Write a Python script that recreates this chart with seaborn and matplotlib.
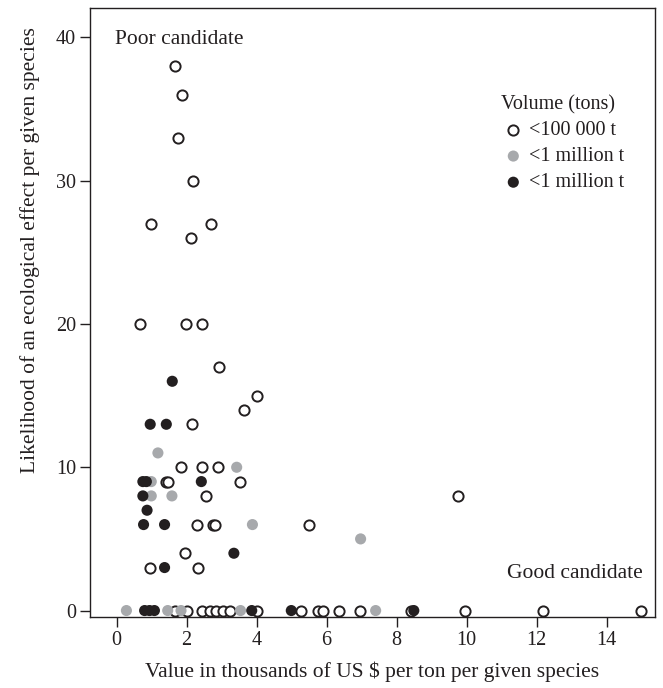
import matplotlib
matplotlib.use("Agg")
import matplotlib.pyplot as plt
import seaborn as sns
import pandas as pd

# ---- data ----
open_x = [1.66, 1.87, 1.76, 2.19, 0.99, 2.69, 2.12, 0.68, 1.97, 2.44, 2.93, 4.0, 3.65, 2.16,
          1.83, 2.45, 2.9, 1.42, 1.47, 3.52, 2.55, 9.76, 2.31, 2.76, 2.8, 5.49, 1.95, 0.96, 2.33,
          1.68, 2.0, 2.45, 2.66, 2.85, 3.04, 3.23, 4.0, 5.28, 5.76, 5.9, 6.36, 6.95, 8.4, 9.95,
          12.19, 14.98]
open_y = [38, 36, 33, 30, 27, 27, 26, 20, 20, 20, 17, 15, 14, 13,
          10, 10, 10, 9, 9, 9, 8, 8, 6, 6, 6, 6, 4, 3, 3,
          0, 0, 0, 0, 0, 0, 0, 0, 0, 0, 0, 0, 0, 0, 0,
          0, 0]

gray_x = [1.18, 3.43, 0.99, 0.99, 1.58, 3.88, 6.97, 0.28, 1.46, 1.84, 3.54, 7.4]
gray_y = [11, 10, 9, 8, 8, 6, 5, 0, 0, 0, 0, 0]

black_x = [1.59, 0.96, 1.42, 0.75, 0.85, 2.42, 0.75, 0.87, 0.77, 1.37, 3.35, 1.37,
           0.8, 0.94, 1.08, 3.86, 4.99, 8.49]
black_y = [16, 13, 13, 9, 9, 9, 8, 7, 6, 6, 4, 3,
           0, 0, 0, 0, 0, 0]

group_labels = ["<100 000 t", "<1 million t", "<1 million t"]
x_ticks = [0, 2, 4, 6, 8, 10, 12, 14]
y_ticks = [0, 10, 20, 30, 40]

INK = "#231f20"

sns.set_theme(style="ticks")
plt.rcParams["font.family"] = ["Liberation Serif", "DejaVu Serif"]
plt.rcParams["axes.edgecolor"] = INK

fig = plt.figure(figsize=(6.63, 6.88), dpi=100)
# axes box: left 90 px, right 655 px, top 8 px, bottom 617 px
ax = fig.add_axes([90 / 663, 1 - 617 / 688, 565 / 663, 609 / 688])

df_open = pd.DataFrame({"x": open_x, "y": open_y})
df_gray = pd.DataFrame({"x": gray_x, "y": gray_y})
df_black = pd.DataFrame({"x": black_x, "y": black_y})

sns.scatterplot(data=df_open, x="x", y="y", ax=ax, s=54, facecolor="white",
                edgecolor=INK, linewidth=1.4, label=group_labels[0], zorder=3)
sns.scatterplot(data=df_gray, x="x", y="y", ax=ax, s=64, color="#a7a9ac",
                edgecolor="none", linewidth=0, label=group_labels[1], zorder=3)
sns.scatterplot(data=df_black, x="x", y="y", ax=ax, s=64, color=INK,
                edgecolor="none", linewidth=0, label=group_labels[2], zorder=3)

ax.set_xlim(-0.76, 15.38)
ax.set_ylim(-0.45, 42.05)
ax.set_xticks(x_ticks)
ax.set_yticks(y_ticks)
ax.tick_params(direction="out", length=7, width=1, labelsize=14.5, colors=INK, pad=3)
for sp in ax.spines.values():
    sp.set_visible(True)
    sp.set_linewidth(1.0)

ax.set_xlabel("Value in thousands of US $ per ton per given species", fontsize=15.5,
              color=INK, labelpad=8)
ax.set_ylabel("Likelihood of an ecological effect per given species", fontsize=15.5,
              color=INK)
ax.yaxis.set_label_coords(-0.088, (617 - 250) / 609)

ax.text(25 / 565, (617 - 40) / 609, "Poor candidate", transform=ax.transAxes,
        fontsize=15.5, color=INK, ha="left", va="center")
ax.text((643 - 90) / 565, (617 - 573) / 609, "Good candidate", transform=ax.transAxes,
        fontsize=15.5, color=INK, ha="right", va="center")

leg = ax.legend(loc="upper left", bbox_to_anchor=(0.71, 0.874), frameon=False,
                title="Volume (tons)", fontsize=14.5, title_fontsize=14.5,
                handletextpad=0.2, labelspacing=0.35, borderpad=0, handlelength=1.2,
                alignment="left")
for t in leg.get_texts():
    t.set_color(INK)
leg.get_title().set_color(INK)

fig.savefig("out.png", dpi=100)
